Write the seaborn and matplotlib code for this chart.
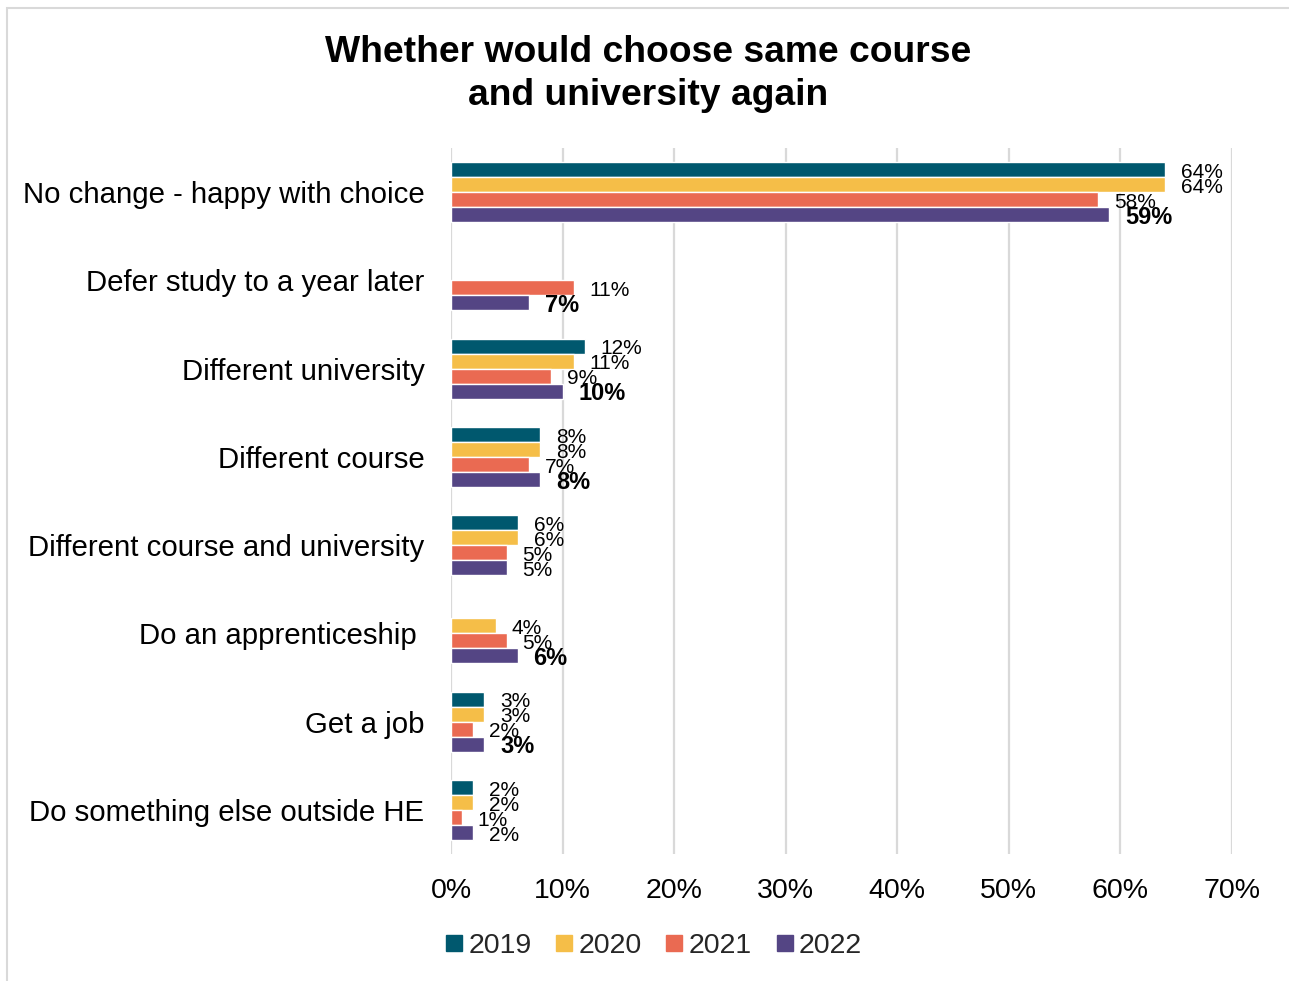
import matplotlib
matplotlib.use("Agg")
import matplotlib.pyplot as plt
from matplotlib.lines import Line2D
from matplotlib.patches import Rectangle
import numpy as np
import pandas as pd
import seaborn as sns

categories = [
    "No change - happy with choice",
    "Defer study to a year later",
    "Different university",
    "Different course",
    "Different course and university",
    "Do an apprenticeship ",
    "Get a job",
    "Do something else outside HE",
]
years = ["2019", "2020", "2021", "2022"]
v2019 = [64, np.nan, 12, 8, 6, np.nan, 3, 2]
v2020 = [64, np.nan, 11, 8, 6, 4, 3, 2]
v2021 = [58, 11, 9, 7, 5, 5, 2, 1]
v2022 = [59, 7, 10, 8, 5, 6, 3, 2]
# categories whose latest-year value is emphasised
emphasised_2022 = [True, True, True, True, False, True, True, False]
colors = ["#00586E", "#F5BE48", "#EA6A52", "#544584"]
xticks = [0, 10, 20, 30, 40, 50, 60, 70]

rows = []
for yr, vals in zip(years, [v2019, v2020, v2021, v2022]):
    for cat, v in zip(categories, vals):
        rows.append({"category": cat, "year": yr, "value": v})
df = pd.DataFrame(rows).dropna()

sns.set_theme(style="white")
plt.rcParams["font.family"] = ["Liberation Sans", "DejaVu Sans"]

fig = plt.figure(figsize=(12.89, 9.81), dpi=100)
ax = fig.add_axes([451 / 1289, 1 - 854 / 981, (1232 - 451) / 1289, (854 - 148) / 981])

sns.barplot(
    data=df, x="value", y="category", hue="year",
    order=categories, hue_order=years, palette=colors,
    orient="h", width=0.68, gap=0, errorbar=None, legend=False, ax=ax,
    saturation=1,
)

# value labels at the end of each bar
for yr, cont in zip(years, ax.containers):
    for bar in cont:
        w = bar.get_width()
        if not np.isfinite(w) or w <= 0:
            continue
        yc = bar.get_y() + bar.get_height() / 2
        idx = int(round(yc))
        bold = yr == "2022" and emphasised_2022[idx]
        ax.text(w + 1.4, yc + 0.03, f"{w:.0f}%", va="center", ha="left",
                fontsize=17 if bold else 15, color="black",
                fontweight="bold" if bold else "normal")

ax.set_xlim(0, 70)
ax.set_ylim(len(categories) - 0.5, -0.5)
ax.set_xticks(xticks)
ax.set_xticklabels([f"{t}%" for t in xticks], fontsize=20.5, color="black")
ax.tick_params(axis="y", labelsize=21.2, length=0, pad=19, labelcolor="black")
ax.tick_params(axis="x", length=0, pad=17)
ax.set_xlabel("")
ax.set_ylabel("")
ax.grid(axis="x", color="#D9D9D9", linewidth=1.6)
ax.set_axisbelow(True)
for s in ax.spines.values():
    s.set_visible(False)

fig.text(0.503, 1 - 74 / 981, "Whether would choose same course\nand university again",
         ha="center", va="center", fontsize=26.8, fontweight="bold",
         linespacing=1.26, color="black")

handles = [Line2D([0], [0], marker="s", linestyle="none", markersize=11,
                  markerfacecolor=c, markeredgecolor=c) for c in colors]
fig.legend(handles, years, loc="center", bbox_to_anchor=(0.506, 1 - 946 / 981),
           ncol=4, frameon=False, fontsize=20.5, handletextpad=0.1,
           columnspacing=0.75, handlelength=0.8)

# light outer frame
fig.patches.append(Rectangle((7 / 1289, -0.01), 1.1, 1 - 8 / 981 + 0.01,
                             transform=fig.transFigure, fill=False,
                             edgecolor="#D9D9D9", linewidth=1.5))

fig.savefig("out.png", dpi=100)
